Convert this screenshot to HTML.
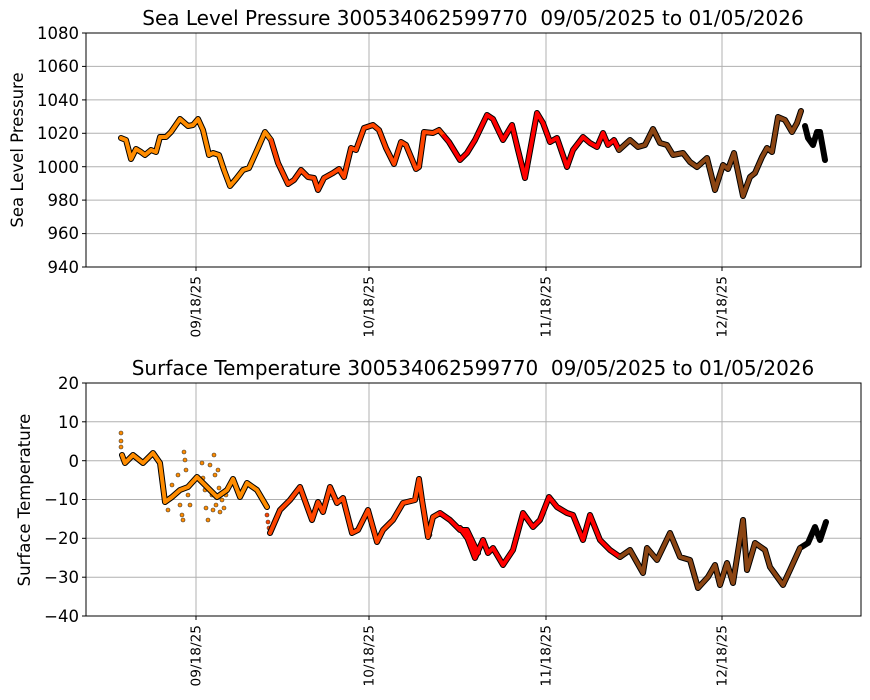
<!DOCTYPE html>
<html><head><style>
body{margin:0;background:#fff;}
svg{display:block;font-family:"DejaVu Sans","Liberation Sans",sans-serif;}
.g{stroke:#b0b0b0;stroke-width:1;}
.t{font-size:16.5px;fill:#000;}
.xt{font-size:13.7px;fill:#000;}
.ti{font-size:20px;fill:#000;}
.yl{font-size:16.5px;fill:#000;}
.o{fill:none;stroke:#000;stroke-width:6;stroke-linejoin:round;stroke-linecap:round;}
.c{fill:none;stroke-width:4;stroke-linejoin:round;stroke-linecap:round;}
.tk{stroke:#000;stroke-width:1;}
</style></head><body>
<svg width="870" height="700" viewBox="0 0 870 700">
<!-- TOP -->
<g>
<line class="g" x1="86" x2="861" y1="66.4" y2="66.4"/><line class="g" x1="86" x2="861" y1="99.9" y2="99.9"/><line class="g" x1="86" x2="861" y1="133.3" y2="133.3"/><line class="g" x1="86" x2="861" y1="166.7" y2="166.7"/><line class="g" x1="86" x2="861" y1="200.1" y2="200.1"/><line class="g" x1="86" x2="861" y1="233.6" y2="233.6"/>
<line class="g" x1="196" x2="196" y1="33" y2="267"/><line class="g" x1="369" x2="369" y1="33" y2="267"/><line class="g" x1="546" x2="546" y1="33" y2="267"/><line class="g" x1="722" x2="722" y1="33" y2="267"/>
<g class="tk"><line x1="82" x2="86" y1="33" y2="33"/><line x1="82" x2="86" y1="66.4" y2="66.4"/><line x1="82" x2="86" y1="99.9" y2="99.9"/><line x1="82" x2="86" y1="133.3" y2="133.3"/><line x1="82" x2="86" y1="166.7" y2="166.7"/><line x1="82" x2="86" y1="200.1" y2="200.1"/><line x1="82" x2="86" y1="233.6" y2="233.6"/><line x1="82" x2="86" y1="267" y2="267"/>
<line x1="196" x2="196" y1="267" y2="271"/><line x1="369" x2="369" y1="267" y2="271"/><line x1="546" x2="546" y1="267" y2="271"/><line x1="722" x2="722" y1="267" y2="271"/></g>
<g class="t" text-anchor="end">
<text x="79" y="39">1080</text><text x="79" y="72">1060</text><text x="79" y="106">1040</text><text x="79" y="139">1020</text><text x="79" y="173">1000</text><text x="79" y="206">980</text><text x="79" y="239">960</text><text x="79" y="273">940</text></g>
<g class="xt" text-anchor="end">
<text transform="translate(200.5,276) rotate(-90)">09/18/25</text><text transform="translate(373.5,276) rotate(-90)">10/18/25</text><text transform="translate(550.5,276) rotate(-90)">11/18/25</text><text transform="translate(726.5,276) rotate(-90)">12/18/25</text></g>
<text class="yl" transform="translate(23,150) rotate(-90)" text-anchor="middle">Sea Level Pressure</text>
<text class="ti" x="473" y="25" text-anchor="middle">Sea Level Pressure 300534062599770&#160;&#160;09/05/2025 to 01/05/2026</text>
<polyline class="o" points="121,138 126,140 131,159 136,149 141,152 145,155 151,150 156,152 160,137 166,137 171,132 180,119 188,126 193,125 198,119 203,130 209,155 213,153 219,155 224,170 230,186 236,179 243,170 249,168 258,148 265,132 271,140 278,163 288,184 294,180 301,170 308,177 314,178 318,190 324,178 333,173 339,169 344,177 351,148 356,150 364,128 373,125 379,130 386,148 394,164 401,142 406,145 416,169 419,167 424,132 433,133 439,130 449,142 460,160 467,153 475,140 487,115 493,119 503,140 512,125 518,150 525,178 537,113 543,123 550,142 557,138 567,167 573,150 583,137 590,143 597,147 603,133 608,145 614,140 619,150 630,140 638,147 645,145 653,129 660,143 667,145 673,155 683,153 690,162 697,167 707,158 715,190 723,165 728,169 734,153 743,196 750,177 755,173 762,157 767,148 772,152 778,117 785,120 792,132 797,123 801,111"/>
<polyline class="o" points="805,126 808,138 813,145 817,132 820,132 825,160"/>
<polyline class="c" stroke="#ff8c00" points="121,138 126,140 131,159 136,149 141,152 145,155 151,150 156,152 160,137 166,137 171,132 180,119 188,126 193,125 198,119 203,130 209,155 213,153 219,155 224,170 230,186 236,179 243,170 249,168 258,148 265,132 271,140"/>
<polyline class="c" stroke="#ff4500" points="271,140 278,163 288,184 294,180 301,170 308,177 314,178 318,190 324,178 333,173 339,169 344,177 351,148 356,150 364,128 373,125 379,130 386,148 394,164 401,142 406,145 416,169 419,167 424,132 433,133 439,130 444,136"/>
<polyline class="c" stroke="#ff0000" points="444,136 449,142 460,160 467,153 475,140 487,115 493,119 503,140 512,125 518,150 525,178 537,113 543,123 550,142 557,138 567,167 573,150 583,137 590,143 597,147 603,133 608,145 614,140 619,150"/>
<polyline class="c" stroke="#8b4513" points="619,150 630,140 638,147 645,145 653,129 660,143 667,145 673,155 683,153 690,162 697,167 707,158 715,190 723,165 728,169 734,153 743,196 750,177 755,173 762,157 767,148 772,152 778,117 785,120 792,132 797,123 801,111"/>
<rect x="86" y="33" width="775" height="234" fill="none" stroke="#000" stroke-width="1"/>
</g>
<!-- BOTTOM -->
<g>
<line class="g" x1="86" x2="861" y1="421.8" y2="421.8"/><line class="g" x1="86" x2="861" y1="460.7" y2="460.7"/><line class="g" x1="86" x2="861" y1="499.5" y2="499.5"/><line class="g" x1="86" x2="861" y1="538.3" y2="538.3"/><line class="g" x1="86" x2="861" y1="577.2" y2="577.2"/>
<line class="g" x1="196" x2="196" y1="383" y2="616"/><line class="g" x1="369" x2="369" y1="383" y2="616"/><line class="g" x1="546" x2="546" y1="383" y2="616"/><line class="g" x1="722" x2="722" y1="383" y2="616"/>
<g class="tk"><line x1="82" x2="86" y1="383" y2="383"/><line x1="82" x2="86" y1="421.8" y2="421.8"/><line x1="82" x2="86" y1="460.7" y2="460.7"/><line x1="82" x2="86" y1="499.5" y2="499.5"/><line x1="82" x2="86" y1="538.3" y2="538.3"/><line x1="82" x2="86" y1="577.2" y2="577.2"/><line x1="82" x2="86" y1="616" y2="616"/>
<line x1="196" x2="196" y1="616" y2="620"/><line x1="369" x2="369" y1="616" y2="620"/><line x1="546" x2="546" y1="616" y2="620"/><line x1="722" x2="722" y1="616" y2="620"/></g>
<g class="t" text-anchor="end">
<text x="79" y="389">20</text><text x="79" y="428">10</text><text x="79" y="467">0</text><text x="79" y="505">−10</text><text x="79" y="544">−20</text><text x="79" y="583">−30</text><text x="79" y="622">−40</text></g>
<g class="xt" text-anchor="end">
<text transform="translate(200.5,625) rotate(-90)">09/18/25</text><text transform="translate(373.5,625) rotate(-90)">10/18/25</text><text transform="translate(550.5,625) rotate(-90)">11/18/25</text><text transform="translate(726.5,625) rotate(-90)">12/18/25</text></g>
<text class="yl" transform="translate(30,500) rotate(-90)" text-anchor="middle">Surface Temperature</text>
<text class="ti" x="473" y="375" text-anchor="middle">Surface Temperature 300534062599770&#160;&#160;09/05/2025 to 01/05/2026</text>
<g fill="#ff8c00" stroke="#333" stroke-width="0.6">
<circle cx="121" cy="433" r="2"/><circle cx="121" cy="441" r="2"/><circle cx="121" cy="447" r="2"/>
<circle cx="168" cy="510" r="2"/><circle cx="172" cy="485" r="2"/><circle cx="178" cy="475" r="2"/><circle cx="180" cy="505" r="2"/><circle cx="182" cy="515" r="2"/><circle cx="183" cy="520" r="2"/><circle cx="184" cy="452" r="2"/><circle cx="185" cy="460" r="2"/><circle cx="186" cy="470" r="2"/><circle cx="188" cy="495" r="2"/><circle cx="190" cy="505" r="2"/>
<circle cx="202" cy="463" r="2"/><circle cx="203" cy="478" r="2"/><circle cx="205" cy="490" r="2"/><circle cx="206" cy="508" r="2"/><circle cx="208" cy="520" r="2"/><circle cx="210" cy="465" r="2"/><circle cx="212" cy="495" r="2"/><circle cx="213" cy="510" r="2"/><circle cx="214" cy="455" r="2"/><circle cx="215" cy="475" r="2"/><circle cx="216" cy="505" r="2"/><circle cx="218" cy="470" r="2"/><circle cx="219" cy="488" r="2"/><circle cx="220" cy="512" r="2"/><circle cx="222" cy="500" r="2"/><circle cx="224" cy="508" r="2"/><circle cx="226" cy="495" r="2"/>
<circle cx="267" cy="515" r="2" fill="#ff4500"/><circle cx="268" cy="522" r="2" fill="#ff4500"/><circle cx="269" cy="528" r="2" fill="#ff4500"/>
<circle cx="425" cy="520" r="2" fill="#ff4500"/><circle cx="427" cy="530" r="2" fill="#ff4500"/><circle cx="430" cy="535" r="2" fill="#ff4500"/>
</g>
<polyline class="o" stroke-width="5.5" points="122,455 125,463 133,455 143,463 153,453 160,463 165,502 172,497 180,490 188,487 197,477 207,487 217,497 227,490 233,479 240,497 247,483 257,490 267,507"/>
<polyline class="o" stroke-width="5.5" points="270,533 280,510 290,500 300,487 312,520 318,502 323,512 330,487 337,503 343,498 352,533 358,530 368,510 377,542 383,530 393,520 403,503 415,500 419,479 422,500 428,537 433,517 440,513 450,520 460,530 467,530 478,553 460,528 467,537 475,558 483,540 488,553 493,548 503,565 513,550 523,513 533,527 540,520 549,497 557,507 567,513 573,515 583,540 590,515 600,540 610,550 620,557 630,550 643,573 647,548 657,560 670,533 680,557 690,560 698,588 708,577 715,565 720,585 727,563 733,583 743,520 747,570 755,543 765,550 770,567 783,585 790,570 800,548 808,543 815,527 820,540 826,522"/>
<polyline class="c" stroke-width="3.5" stroke="#ff8c00" points="122,455 125,463 133,455 143,463 153,453 160,463 165,502 172,497 180,490 188,487 197,477 207,487 217,497 227,490 233,479 240,497 247,483 257,490 267,507"/>
<polyline class="c" stroke-width="3.5" stroke="#ff4500" points="270,533 280,510 290,500 300,487 312,520 318,502 323,512 330,487 337,503 343,498 352,533 358,530 368,510 377,542 383,530 393,520 403,503 415,500 419,479 422,500 428,537 433,517 440,513"/>
<polyline class="c" stroke-width="3.5" stroke="#ff0000" points="440,513 450,520 460,530 467,530 478,553 460,528 467,537 475,558 483,540 488,553 493,548 503,565 513,550 523,513 533,527 540,520 549,497 557,507 567,513 573,515 583,540 590,515 600,540 610,550 620,557"/>
<polyline class="c" stroke-width="3.5" stroke="#8b4513" points="620,557 630,550 643,573 647,548 657,560 670,533 680,557 690,560 698,588 708,577 715,565 720,585 727,563 733,583 743,520 747,570 755,543 765,550 770,567 783,585 790,570 800,548"/>
<rect x="86" y="383" width="775" height="233" fill="none" stroke="#000" stroke-width="1"/>
</g>
</svg>
</body></html>
